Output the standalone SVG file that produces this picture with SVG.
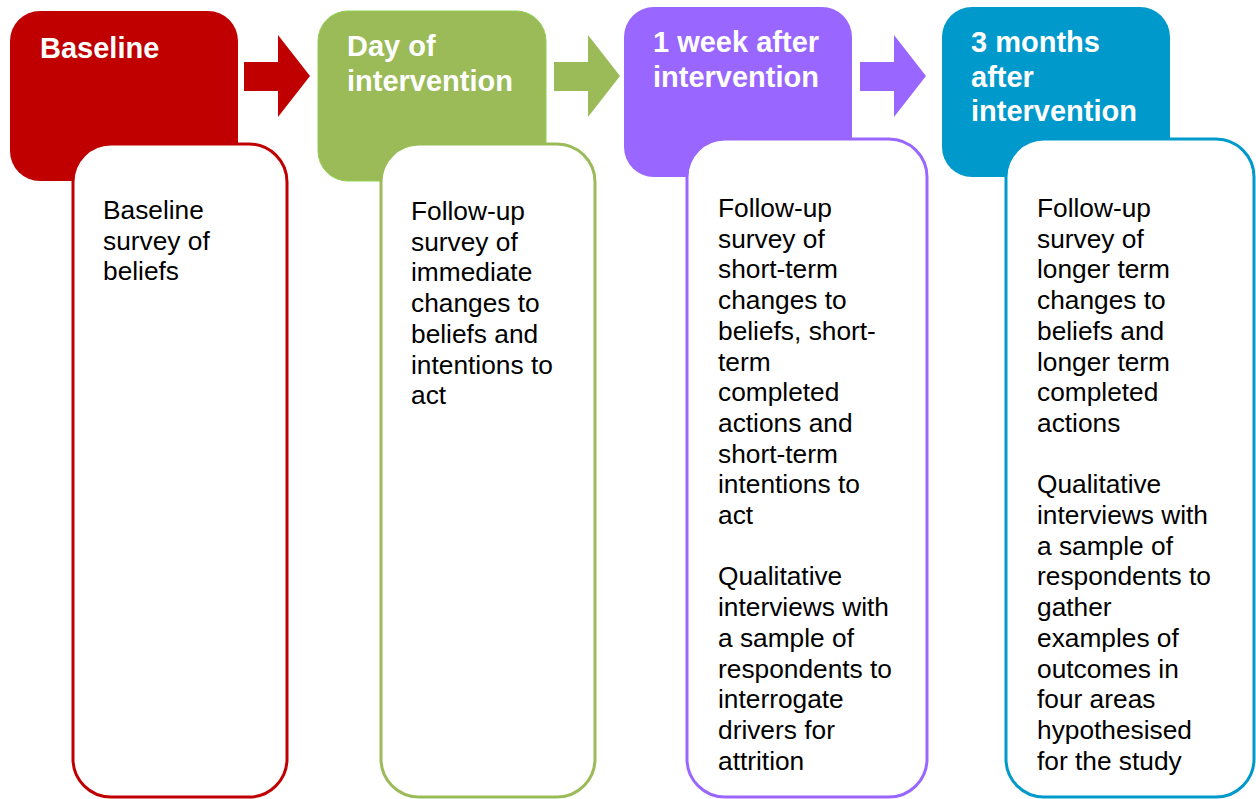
<svg xmlns="http://www.w3.org/2000/svg" width="1256" height="799" viewBox="0 0 1256 799">
  <style>
    .head { font-family: "Liberation Sans", Arial, sans-serif; font-weight: bold; font-size: 29px; fill: #ffffff; }
    .body { font-family: "Liberation Sans", Arial, sans-serif; font-size: 26.3px; fill: #000000; }
    .card { fill: #ffffff; stroke-width: 3; }
  </style>
  <rect width="1256" height="799" fill="#ffffff"/>

  <!-- connectors between stages -->
  <g id="connectors">
    <polygon points="244,62 278,62 278,35 310,76 278,117 278,91 244,91" fill="#C00000"/>
    <polygon points="554,62 588,62 588,35 620,76 588,117 588,91 554,91" fill="#9BBB59"/>
    <polygon points="860,62 894,62 894,35 926,76 894,117 894,91 860,91" fill="#9966FF"/>
  </g>

  <!-- stage 1 -->
  <g id="baseline">
    <rect x="10" y="11" width="228" height="170" rx="30" fill="#C00000"/>
    <text class="head" x="40" y="58">Baseline</text>
    <rect class="card" x="73" y="144" width="214" height="653" rx="38" stroke="#C00000"/>
    <text class="body" x="103" y="219">
      <tspan x="103">Baseline</tspan>
      <tspan x="103" dy="30.7">survey of</tspan>
      <tspan x="103" dy="30.7">beliefs</tspan>
    </text>
  </g>

  <!-- stage 2 -->
  <g id="day-of-intervention">
    <rect x="318" y="11" width="228" height="170" rx="30" fill="#9BBB59" stroke="#92D050" stroke-width="1"/>
    <text class="head" x="347" y="56">
      <tspan x="347">Day of</tspan>
      <tspan x="347" dy="34.5">intervention</tspan>
    </text>
    <rect class="card" x="381" y="144" width="214" height="653" rx="38" stroke="#9BBB59"/>
    <text class="body" x="411" y="220">
      <tspan x="411">Follow-up</tspan>
      <tspan x="411" dy="30.7">survey of</tspan>
      <tspan x="411" dy="30.7">immediate</tspan>
      <tspan x="411" dy="30.7">changes to</tspan>
      <tspan x="411" dy="30.7">beliefs and</tspan>
      <tspan x="411" dy="30.7">intentions to</tspan>
      <tspan x="411" dy="30.7">act</tspan>
    </text>
  </g>

  <!-- stage 3 -->
  <g id="one-week-after">
    <rect x="624" y="7" width="228" height="170" rx="30" fill="#9966FF"/>
    <text class="head" x="653" y="52">
      <tspan x="653">1 week after</tspan>
      <tspan x="653" dy="34.5">intervention</tspan>
    </text>
    <rect class="card" x="687" y="139" width="240" height="658" rx="38" stroke="#9966FF"/>
    <text class="body" x="718" y="217">
      <tspan x="718">Follow-up</tspan>
      <tspan x="718" dy="30.7">survey of</tspan>
      <tspan x="718" dy="30.7">short-term</tspan>
      <tspan x="718" dy="30.7">changes to</tspan>
      <tspan x="718" dy="30.7">beliefs, short-</tspan>
      <tspan x="718" dy="30.7">term</tspan>
      <tspan x="718" dy="30.7">completed</tspan>
      <tspan x="718" dy="30.7">actions and</tspan>
      <tspan x="718" dy="30.7">short-term</tspan>
      <tspan x="718" dy="30.7">intentions to</tspan>
      <tspan x="718" dy="30.7">act</tspan>
      <tspan x="718" dy="61.4">Qualitative</tspan>
      <tspan x="718" dy="30.7">interviews with</tspan>
      <tspan x="718" dy="30.7">a sample of</tspan>
      <tspan x="718" dy="30.7">respondents to</tspan>
      <tspan x="718" dy="30.7">interrogate</tspan>
      <tspan x="718" dy="30.7">drivers for</tspan>
      <tspan x="718" dy="30.7">attrition</tspan>
    </text>
  </g>

  <!-- stage 4 -->
  <g id="three-months-after">
    <rect x="942" y="7" width="228" height="170" rx="30" fill="#0099CC"/>
    <text class="head" x="971" y="52">
      <tspan x="971">3 months</tspan>
      <tspan x="971" dy="34.5">after</tspan>
      <tspan x="971" dy="34.5">intervention</tspan>
    </text>
    <rect class="card" x="1006" y="139" width="248" height="658" rx="38" stroke="#0099CC"/>
    <text class="body" x="1037" y="217">
      <tspan x="1037">Follow-up</tspan>
      <tspan x="1037" dy="30.7">survey of</tspan>
      <tspan x="1037" dy="30.7">longer term</tspan>
      <tspan x="1037" dy="30.7">changes to</tspan>
      <tspan x="1037" dy="30.7">beliefs and</tspan>
      <tspan x="1037" dy="30.7">longer term</tspan>
      <tspan x="1037" dy="30.7">completed</tspan>
      <tspan x="1037" dy="30.7">actions</tspan>
      <tspan x="1037" dy="61.4">Qualitative</tspan>
      <tspan x="1037" dy="30.7">interviews with</tspan>
      <tspan x="1037" dy="30.7">a sample of</tspan>
      <tspan x="1037" dy="30.7">respondents to</tspan>
      <tspan x="1037" dy="30.7">gather</tspan>
      <tspan x="1037" dy="30.7">examples of</tspan>
      <tspan x="1037" dy="30.7">outcomes in</tspan>
      <tspan x="1037" dy="30.7">four areas</tspan>
      <tspan x="1037" dy="30.7">hypothesised</tspan>
      <tspan x="1037" dy="30.7">for the study</tspan>
    </text>
  </g>
</svg>
